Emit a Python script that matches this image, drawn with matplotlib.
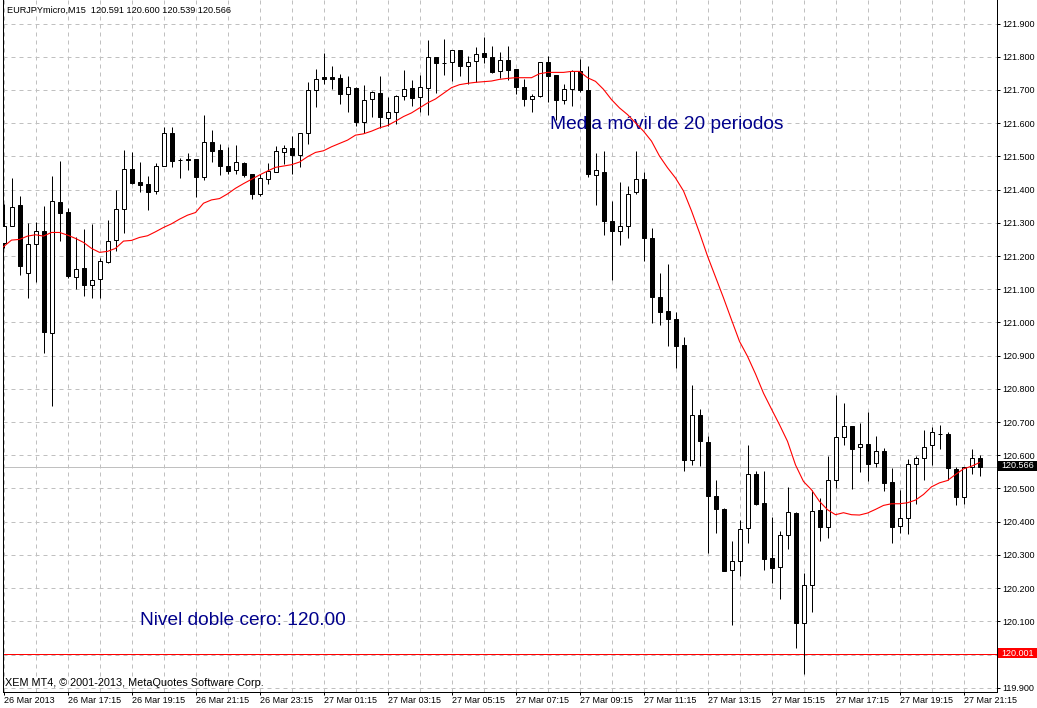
import numpy as np
from matplotlib import pyplot as plt
from matplotlib.patches import Rectangle

plt.rcParams['font.family'] = ['Liberation Sans', 'DejaVu Sans']

opens = [121.240,121.289,121.353,121.150,121.237,121.275,120.967,121.363,121.332,121.138,
         121.163,121.114,121.130,121.183,121.247,121.341,121.462,121.423,121.417,121.395,
         121.472,121.571,121.489,121.491,121.491,121.439,121.543,121.518,121.470,121.458,
         121.479,121.446,121.388,121.433,121.454,121.514,121.526,121.505,121.569,121.701,
         121.738,121.738,121.737,121.688,121.707,121.603,121.673,121.692,121.615,121.634,
         121.683,121.707,121.679,121.707,121.800,121.782,121.785,121.821,121.773,121.788,
         121.812,121.800,121.757,121.791,121.764,121.710,121.672,121.682,121.785,121.744,
         121.669,121.704,121.758,121.701,121.445,121.454,121.306,121.275,121.291,121.393,
         121.433,121.255,121.077,121.035,121.010,120.932,120.587,120.721,120.640,120.477,
         120.438,120.254,120.281,120.380,120.543,120.456,120.290,120.263,120.359,120.427,
         120.096,120.208,120.435,120.383,120.526,120.655,120.687,120.624,120.635,120.577,
         120.614,120.518,120.386,120.411,120.573,120.592,120.630,120.665,120.665,120.559,
         120.474,120.564,120.591]
highs = [121.357,121.435,121.381,121.299,121.302,121.351,121.441,121.485,121.344,121.256,
         121.282,121.297,121.193,121.309,121.399,121.519,121.513,121.483,121.441,121.479,
         121.589,121.589,121.494,121.510,121.491,121.624,121.580,121.537,121.529,121.535,
         121.482,121.447,121.447,121.480,121.532,121.535,121.562,121.570,121.723,121.762,
         121.812,121.772,121.747,121.741,121.709,121.714,121.697,121.741,121.680,121.686,
         121.759,121.729,121.744,121.852,121.800,121.855,121.821,121.821,121.803,121.830,
         121.860,121.833,121.815,121.833,121.764,121.732,121.688,121.785,121.801,121.744,
         121.719,121.761,121.794,121.773,121.511,121.517,121.366,121.423,121.411,121.517,
         121.454,121.285,121.149,121.177,121.031,120.956,120.812,120.739,120.659,120.525,
         120.441,120.341,120.406,120.631,120.552,120.552,120.414,120.371,120.504,120.429,
         120.245,120.496,120.471,120.598,120.780,120.756,120.687,120.696,120.729,120.659,
         120.623,120.562,120.494,120.589,120.598,120.675,120.684,120.690,120.670,120.565,
         120.566,120.620,120.600]
lows = [121.223,121.289,121.143,121.075,121.123,120.909,120.748,121.246,121.135,121.102,
        121.081,121.075,121.075,121.180,121.216,121.270,121.416,121.394,121.339,121.387,
        121.472,121.469,121.436,121.459,121.379,121.430,121.484,121.444,121.448,121.448,
        121.439,121.373,121.381,121.418,121.454,121.477,121.448,121.469,121.536,121.650,
        121.718,121.703,121.659,121.633,121.591,121.569,121.620,121.585,121.591,121.597,
        121.671,121.653,121.634,121.626,121.690,121.744,121.728,121.741,121.719,121.725,
        121.780,121.750,121.737,121.730,121.687,121.653,121.633,121.679,121.663,121.611,
        121.657,121.653,121.694,121.438,121.353,121.262,121.129,121.232,121.253,121.386,
        121.184,120.997,120.992,120.929,120.863,120.554,120.572,120.569,120.306,120.367,
        120.250,120.090,120.235,120.337,120.449,120.253,120.214,120.166,120.319,120.021,
        119.942,120.127,120.343,120.352,120.502,120.632,120.497,120.551,120.522,120.566,
        120.491,120.337,120.367,120.364,120.454,120.527,120.572,120.620,120.525,120.449,
        120.452,120.545,120.539]
closes = [121.289,121.349,121.171,121.235,121.274,120.972,121.365,121.331,121.140,121.160,
          121.114,121.127,121.184,121.244,121.341,121.461,121.420,121.414,121.394,121.470,
          121.570,121.486,121.488,121.490,121.439,121.543,121.517,121.472,121.457,121.484,
          121.445,121.388,121.434,121.455,121.515,121.525,121.505,121.570,121.699,121.732,
          121.734,121.734,121.688,121.710,121.603,121.670,121.695,121.618,121.634,121.683,
          121.704,121.675,121.710,121.800,121.781,121.781,121.821,121.771,121.785,121.809,
          121.799,121.753,121.791,121.760,121.709,121.672,121.683,121.785,121.742,121.669,
          121.704,121.758,121.700,121.447,121.460,121.305,121.275,121.291,121.387,121.433,
          121.254,121.076,121.031,121.010,120.928,120.587,120.720,120.642,120.476,120.437,
          120.250,120.283,120.378,120.543,120.452,120.289,120.262,120.359,120.428,120.096,
          120.208,120.432,120.383,120.525,120.655,120.689,120.618,120.634,120.573,120.613,
          120.516,120.383,120.411,120.574,120.592,120.625,120.670,120.664,120.561,120.474,
          120.565,120.591,120.566]
ma20 = [121.228,121.248,121.250,121.260,121.264,121.260,121.271,121.271,121.263,121.253,
        121.241,121.223,121.211,121.214,121.223,121.245,121.247,121.256,121.261,121.273,
        121.286,121.297,121.311,121.323,121.331,121.359,121.369,121.373,121.387,121.404,
        121.418,121.431,121.444,121.456,121.467,121.471,121.475,121.483,121.499,121.512,
        121.517,121.529,121.539,121.549,121.564,121.568,121.576,121.586,121.593,121.606,
        121.620,121.631,121.646,121.661,121.673,121.690,121.707,121.716,121.720,121.723,
        121.725,121.727,121.732,121.735,121.737,121.737,121.737,121.749,121.753,121.753,
        121.753,121.756,121.756,121.737,121.726,121.702,121.671,121.646,121.626,121.601,
        121.576,121.546,121.501,121.466,121.435,121.396,121.336,121.270,121.200,121.137,
        121.074,121.008,120.943,120.898,120.845,120.787,120.739,120.692,120.642,120.571,
        120.521,120.496,120.461,120.436,120.421,120.427,120.421,120.420,120.426,120.437,
        120.449,120.454,120.454,120.457,120.465,120.482,120.505,120.517,120.524,120.542,
        120.559,120.567,120.578]

time_labels = ['26 Mar 2013', '26 Mar 17:15', '26 Mar 19:15', '26 Mar 21:15', '26 Mar 23:15',
               '27 Mar 01:15', '27 Mar 03:15', '27 Mar 05:15', '27 Mar 07:15', '27 Mar 09:15',
               '27 Mar 11:15', '27 Mar 13:15', '27 Mar 15:15', '27 Mar 17:15', '27 Mar 19:15',
               '27 Mar 21:15']
price_ticks = [119.9, 120.0, 120.1, 120.2, 120.3, 120.4, 120.5, 120.6, 120.7, 120.8, 120.9,
               121.0, 121.1, 121.2, 121.3, 121.4, 121.5, 121.6, 121.7, 121.8, 121.9]
last_price = 120.566
zero_level = 120.001

W, H = 1037, 708
px = 0.72  # one pixel in points at dpi 100
fig = plt.figure(figsize=(W / 100, H / 100), dpi=100)
ax = fig.add_axes([2.5 / W, (H - 691.5) / H, 994 / W, 691.5 / H])
ax.set_xlim(-0.125, 124.125)
ax.set_ylim(119.8886, 121.971)

x = np.arange(len(opens))
o, h, l, c = map(np.array, (opens, highs, lows, closes))
up = c > o

ax.set_xticks(np.arange(0, 121, 4), minor=True)
ax.set_xticks(np.arange(0, 121, 8))
ax.set_xticklabels(time_labels, ha='left', fontsize=6.5)
ax.set_yticks(price_ticks)
# the 120.000 label sits under the red 120.001 box
ax.set_yticklabels(['' if p == 120.0 else '%.3f' % p for p in price_ticks], fontsize=6.5)
ax.yaxis.tick_right()
ax.tick_params(axis='x', which='major', length=3 * px, width=px, pad=1.2)
ax.tick_params(axis='x', which='minor', length=0)
ax.tick_params(axis='y', length=3 * px, width=px, pad=2)
ax.grid(True, axis='x', which='both', color='#c0c0c0', lw=px, ls=(0, (4, 4)), zorder=0)
ax.grid(True, axis='y', color='#c0c0c0', lw=px, ls=(0, (4, 4)), zorder=0)
ax.set_axisbelow(True)
for side in ax.spines:
    ax.spines[side].set_linewidth(px)
ax.spines['top'].set_visible(False)

ax.axhline(last_price, color='#c0c0c0', lw=px, zorder=1)
ax.axhline(zero_level, color='#ff0000', lw=px, zorder=1)

ax.text(68.35, 121.595, 'Media móvil de 20 periodos', color='#00008b', fontsize=13.8,
        va='center', zorder=2)
ax.text(17.05, 120.103, 'Nivel doble cero: 120.00', color='#00008b', fontsize=13.8,
        va='center', zorder=2)

ax.vlines(x, l, h, color='black', lw=px, zorder=3)
ax.bar(x, np.abs(c - o), bottom=np.minimum(o, c), width=0.5, lw=px, edgecolor='black',
       color=['white' if u else 'black' for u in up], zorder=4)
ax.plot(x, ma20, color='#ff0000', lw=0.8, zorder=5)

tr = ax.get_yaxis_transform()
for price, col in ((last_price, 'black'), (zero_level, '#ff0000')):
    ax.add_patch(Rectangle((1.0015, price - 0.012), 0.0405, 0.03, transform=tr, facecolor=col,
                           edgecolor='none', clip_on=False, zorder=6))
    ax.text(1.005, price + 0.003, '%.3f' % price, transform=tr, color='white', fontsize=6.5,
            va='center', ha='left', zorder=7)

ax.text(4.5 / 994, 1 - 10 / 691.5, 'EURJPYmicro,M15  120.591 120.600 120.539 120.566',
        transform=ax.transAxes, fontsize=6.6, va='center')
ax.text(2.2 / 994, 8 / 691.5, 'XEM MT4, © 2001-2013, MetaQuotes Software Corp.',
        transform=ax.transAxes, fontsize=7.8, va='center', zorder=7)

fig.savefig('out.png', dpi=100)
